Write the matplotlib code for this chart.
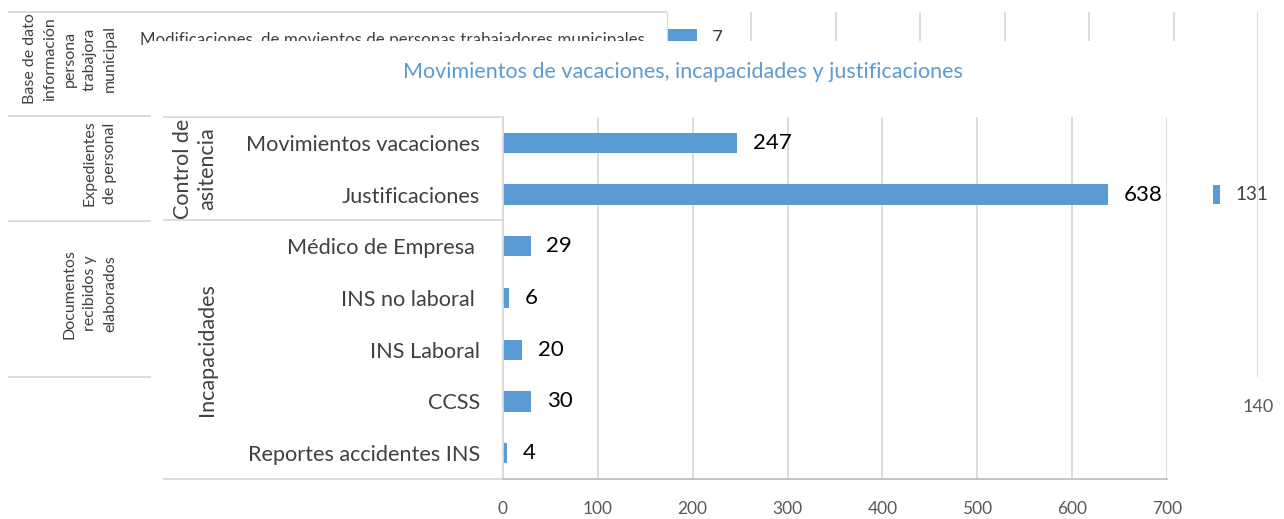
import matplotlib
matplotlib.use("Agg")
import matplotlib.pyplot as plt
from matplotlib.patches import Rectangle

plt.rcParams['font.family'] = ['Lato', 'DejaVu Sans']

# gráfico principal
categorias = ["Movimientos vacaciones", "Justificaciones", "Médico de Empresa ",
              "INS no laboral ", "INS Laboral", "CCSS", "Reportes accidentes INS"]
valores = [247, 638, 29, 6, 20, 30, 4]
grupos = ["Control de\nasitencia", "Incapacidades"]
tam_grupos = [2, 5]
ticks_x = [0, 100, 200, 300, 400, 500, 600, 700]
titulo = "Movimientos de vacaciones, incapacidades y justificaciones"

# gráfico de fondo (queda tapado casi todo)
fondo_categorias = ["Modificaciones, de movientos de personas trabajadores municipales",
                    "", "", "", "", "", ""]
fondo_valores = [7, 0, 0, 131, 0, 0, 0]
fondo_grupos = ["Base de dato\ninformación\npersona\ntrabajora\nmunicipal",
                "Expedientes\nde personal",
                "Documentos\nrecibidos y\nelaborados"]
fondo_tam_grupos = [2, 2, 3]
fondo_ticks = [0, 20, 40, 60, 80, 100, 120, 140]

AZUL = '#5b9bd5'
GRIS = '#d9d9d9'
W, H = 1284, 519


def caja(x0, y0, x1, y1):
    # pixeles -> fracción de figura
    return [x0 / W, 1 - y1 / H, (x1 - x0) / W, (y1 - y0) / H]


def tabla_grupos(ax, tam, x_izq):
    trans = ax.get_yaxis_transform()
    bordes = [-0.5]
    for t in tam:
        bordes.append(bordes[-1] + t)
    for b in bordes:
        ax.plot([x_izq, 0], [b, b], color=GRIS, lw=1.3, transform=trans,
                clip_on=False, solid_capstyle='butt')
    return bordes


fig = plt.figure(figsize=(W / 100, H / 100), dpi=100)

# ---- fondo
ax_bg = fig.add_axes(caja(667, 12, 1258, 377), zorder=0)
y_bg = list(range(len(fondo_categorias)))
barras_bg = ax_bg.barh(y_bg, fondo_valores, height=0.36, color=AZUL)
ax_bg.bar_label(barras_bg, labels=[str(v) if v else "" for v in fondo_valores],
                padding=11, fontsize=13.5, color='#404040')
ax_bg.set_xlim(0, 140)
ax_bg.set_ylim(len(y_bg) - 0.5, -0.5)
ax_bg.set_xticks(fondo_ticks)
ax_bg.set_yticks(y_bg, fondo_categorias)
ax_bg.tick_params(axis='y', length=0, pad=16, labelsize=12.2, labelcolor='#404040')
ax_bg.tick_params(axis='x', length=0, pad=16, labelsize=13, labelcolor='#595959')
ax_bg.grid(axis='x', color=GRIS, lw=1.3)
ax_bg.set_axisbelow(True)
for s in ['top', 'right', 'bottom']:
    ax_bg.spines[s].set_visible(False)
ax_bg.spines['left'].set_color(GRIS)
bordes = tabla_grupos(ax_bg, fondo_tam_grupos, (8 - 667) / 591)
for g, a, b in zip(fondo_grupos, bordes[:-1], bordes[1:]):
    ax_bg.text((117 - 667) / 591, (a + b) / 2 - 0.1, g, rotation=90, ha='right',
               va='center', multialignment='center', fontsize=11.5, color='#404040',
               linespacing=1.55, transform=ax_bg.get_yaxis_transform())

# ---- recuadro blanco del gráfico pegado encima
fig.add_artist(Rectangle((151 / W, 0), (1213 - 151) / W, 1 - 41 / H,
                         transform=fig.transFigure, facecolor='white',
                         edgecolor='none', zorder=1))

fig.text(683 / W, 1 - 72 / H, titulo, color=AZUL, fontsize=15.5,
         ha='center', va='center', zorder=3)

# ---- gráfico principal
ax = fig.add_axes(caja(503, 117, 1167, 479), zorder=2)
ax.set_facecolor('none')
y = list(range(len(categorias)))
barras = ax.barh(y, valores, height=0.39, color=AZUL)
ax.bar_label(barras, padding=11.5, fontsize=16, color='black')
ax.set_xlim(0, 700)
ax.set_ylim(len(y) - 0.5, -0.5)
ax.set_xticks(ticks_x)
ax.set_yticks(y, categorias)
ax.tick_params(axis='y', length=0, pad=16.5, labelsize=15.6, labelcolor='#404040')
ax.tick_params(axis='x', length=0, pad=15.5, labelsize=12.5, labelcolor='#595959')
ax.grid(axis='x', color=GRIS, lw=1.3)
ax.set_axisbelow(True)
ax.spines['top'].set_visible(False)
ax.spines['right'].set_visible(False)
ax.spines['left'].set_color(GRIS)
ax.spines['left'].set_linewidth(1.3)
ax.spines['bottom'].set_color('#bfbfbf')
ax.spines['bottom'].set_linewidth(1.3)
bordes = tabla_grupos(ax, tam_grupos, (163 - 503) / 664)
for g, a, b in zip(grupos, bordes[:-1], bordes[1:]):
    ax.text((217 - 503) / 664, (a + b) / 2, g, rotation=90, ha='right', va='center',
            multialignment='center', fontsize=15.5, color='#404040', linespacing=1.25,
            transform=ax.get_yaxis_transform())

fig.savefig('out.png', dpi=100)
